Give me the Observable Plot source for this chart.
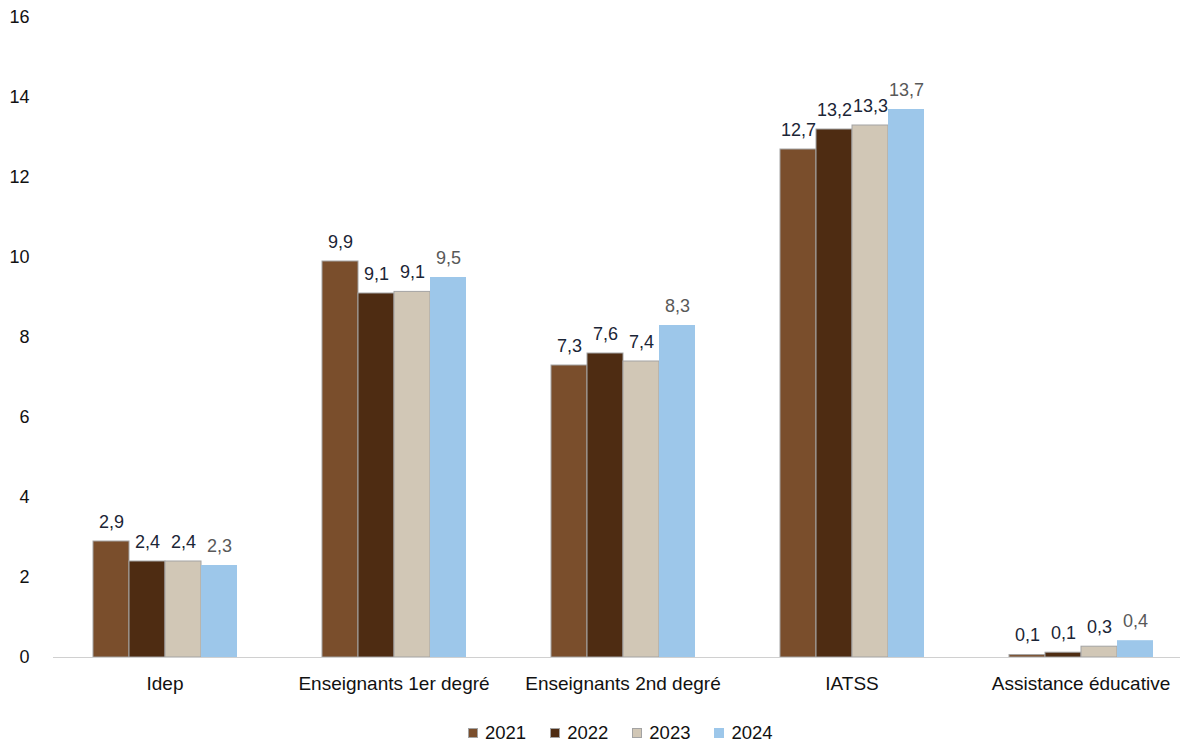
<!DOCTYPE html>
<html><head><meta charset="utf-8">
<script src="https://cdn.jsdelivr.net/npm/d3@7"></script>
<script src="https://cdn.jsdelivr.net/npm/@observablehq/plot@0.6"></script>
<style>
body{margin:0;background:#fff;font-family:"Liberation Sans",Arial,sans-serif;}
#legend{display:flex;margin-left:468px;margin-top:16px;font-size:18.5px;color:#111;align-items:center;height:24px}
#legend .it{display:flex;align-items:center;margin-right:24px}
#legend .sw{width:10px;height:10px;margin-right:7px;box-sizing:border-box}
</style></head>
<body>
<div id="chart"></div>
<div id="legend"></div>
<script>
const categories = ["Idep","Enseignants 1er degré","Enseignants 2nd degré","IATSS","Assistance éducative"];
const years = ["2021","2022","2023","2024"];
const v2021 = [2.9, 9.9, 7.3, 12.7, 0.06];
const v2022 = [2.4, 9.1, 7.6, 13.2, 0.12];
const v2023 = [2.4, 9.14, 7.4, 13.3, 0.27];
const v2024 = [2.3, 9.5, 8.3, 13.7, 0.42];
const colors = ["#7a4e2c","#4e2c12","#d1c7b6","#9dc7ea"];
const yTicks = [0,2,4,6,8,10,12,14,16];

const series = [v2021, v2022, v2023, v2024];
const data = [];
categories.forEach((c, i) => years.forEach((y, j) => data.push({category: c, year: y, value: series[j][i]})));
const fmt = v => v.toFixed(1).replace(".", ",");

const chart = Plot.plot({
  width: 1192, height: 705,
  marginLeft: 50, marginRight: -3, marginTop: 17, marginBottom: 48,
  style: {fontFamily: "Liberation Sans, Arial, sans-serif", fontSize: "19px", color: "#111", background: "#fff"},
  fx: {domain: categories, paddingInner: 0.36, paddingOuter: 0.18, label: null, axis: "bottom", tickSize: 0, tickPadding: 19},
  x: {domain: years, padding: 0, axis: null},
  y: {domain: [0,16], ticks: yTicks, tickSize: 0, tickPadding: 62, label: null, tickFormat: d => d},
  color: {domain: years, range: colors},
  marks: [
    Plot.barY(data, {filter: d => d.year !== "2024", fx: "category", x: "year", y: "value", fill: "year", stroke: "#a3a3a3", strokeWidth: 1}),
    Plot.barY(data, {filter: d => d.year === "2024", fx: "category", x: "year", y: "value", fill: "year"}),
    Plot.text(data, {filter: d => d.year !== "2024", fx: "category", x: "year", y: "value", text: d => fmt(d.value), dy: -14, fill: "#1b2536", fontSize: 18, lineAnchor: "bottom"}),
    Plot.text(data, {filter: d => d.year === "2024", fx: "category", x: "year", y: "value", text: d => fmt(d.value), dy: -14, fill: "#595959", fontSize: 18, lineAnchor: "bottom"})
  ]
});
document.getElementById("chart").appendChild(chart);

const svg = d3.select(chart.tagName === "svg" ? chart : chart.querySelector("svg"));
svg.selectAll("g[aria-label='y-axis tick label'] text, g[aria-label='y-axis'] text").attr("font-size", 18);
// baseline across the whole frame, positioned via the plot's y scale
const y0 = chart.scale("y").apply(0);
svg.append("line").attr("x1", 53).attr("x2", 1180).attr("y1", y0 + 0.5).attr("y2", y0 + 0.5)
  .attr("stroke", "#d0d0d0").attr("stroke-width", 1);

const lg = document.getElementById("legend");
years.forEach((y, i) => {
  const it = document.createElement("div"); it.className = "it";
  const sw = document.createElement("div"); sw.className = "sw";
  sw.style.background = colors[i];
  if (i < 3) sw.style.border = "1px solid #a3a3a3";
  const t = document.createElement("span"); t.textContent = y;
  it.appendChild(sw); it.appendChild(t); lg.appendChild(it);
});
</script>
</body></html>
